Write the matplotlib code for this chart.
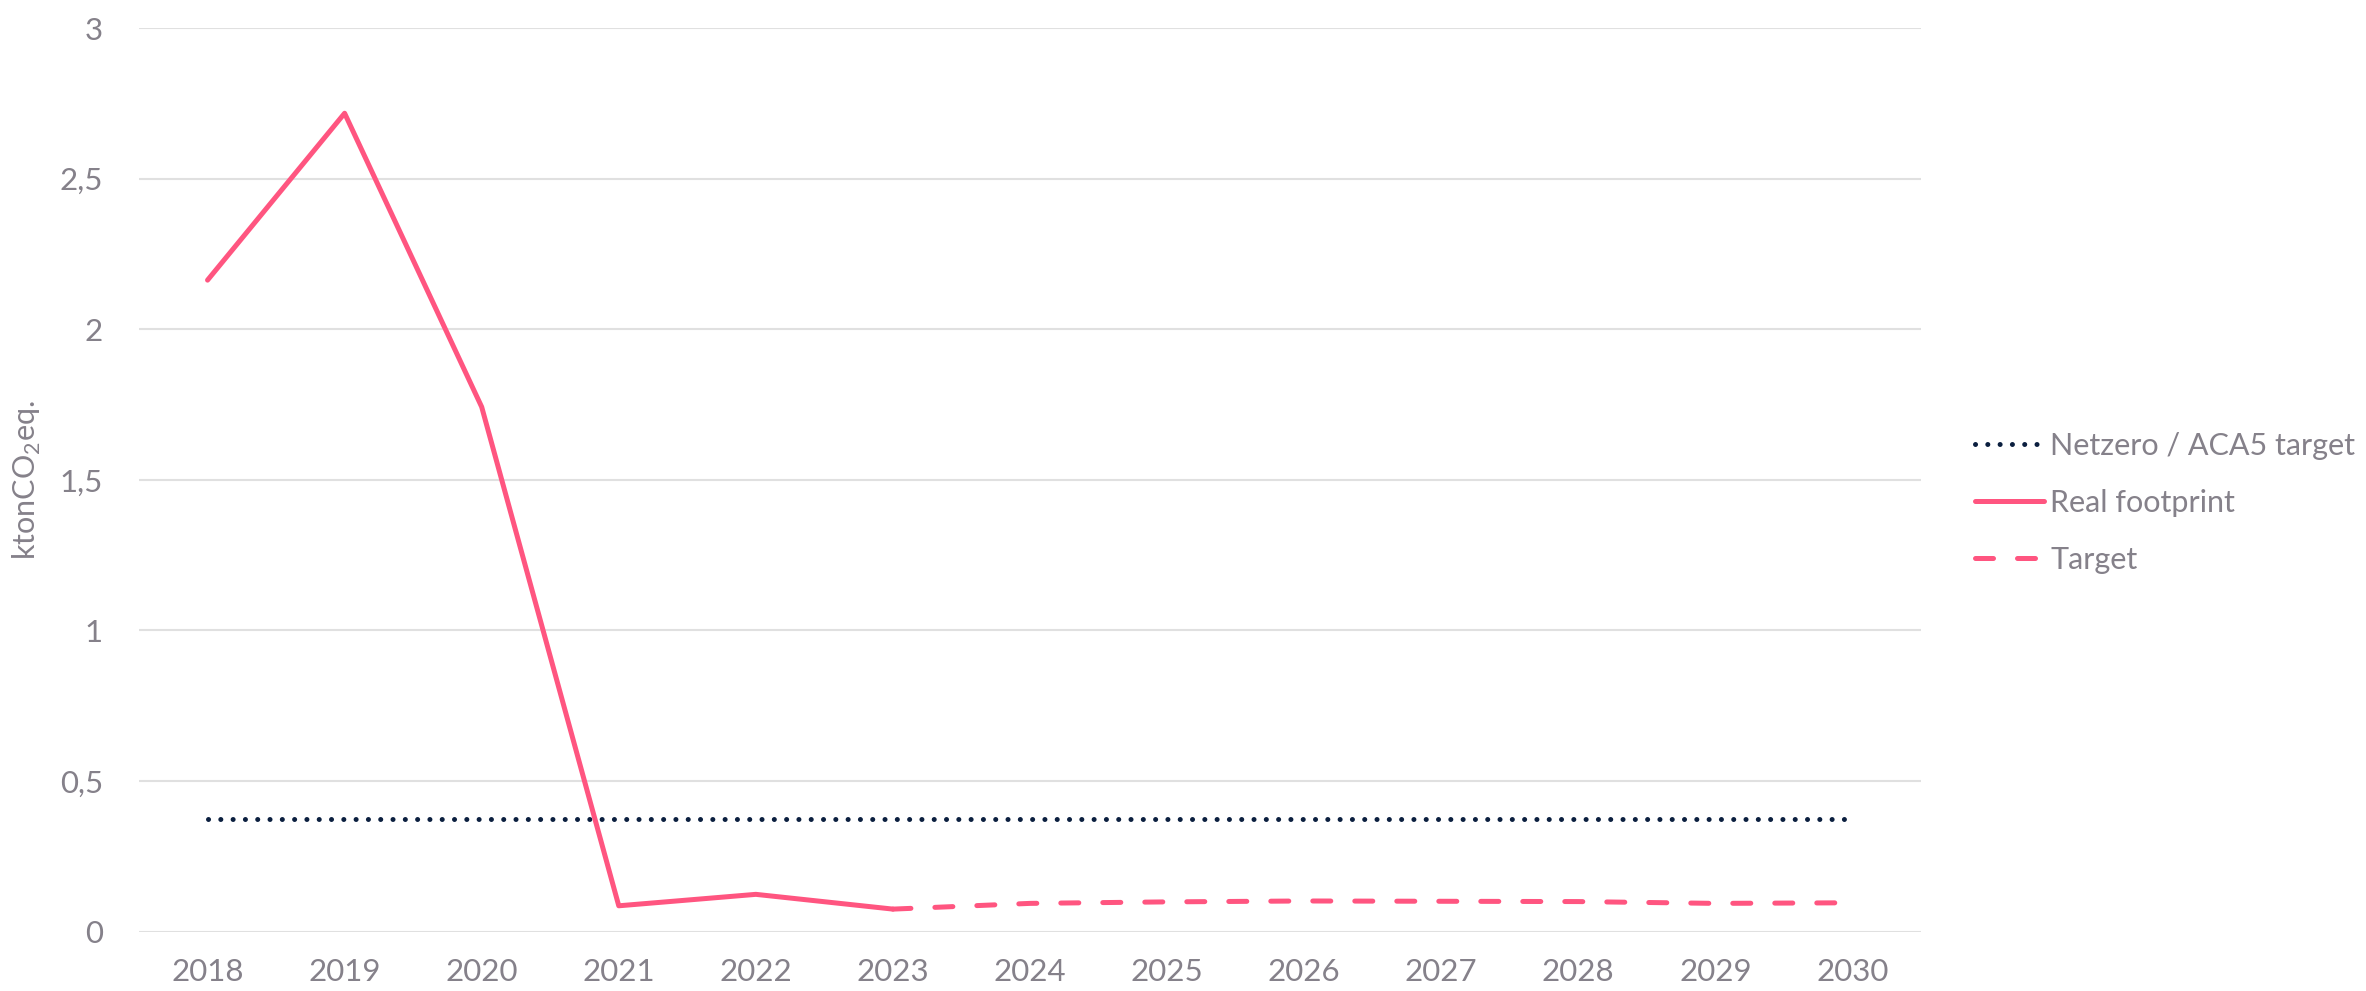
import matplotlib
matplotlib.use("Agg")
import matplotlib.pyplot as plt
from matplotlib.ticker import FuncFormatter

# data
years = [2018, 2019, 2020, 2021, 2022, 2023, 2024, 2025, 2026, 2027, 2028, 2029, 2030]
real_years = [2018, 2019, 2020, 2021, 2022, 2023]
real_footprint = [2.163, 2.717, 1.742, 0.086, 0.124, 0.075]
target_years = [2023, 2024, 2025, 2026, 2027, 2028, 2029, 2030]
target = [0.075, 0.094, 0.099, 0.102, 0.101, 0.100, 0.094, 0.096]
netzero = [0.374] * len(years)

pink = "#FF5580"
navy = "#0B1F3F"
grey = "#85818A"

plt.rcParams['font.family'] = ['Lato', 'DejaVu Sans']
plt.rcParams['mathtext.fontset'] = 'custom'
plt.rcParams['mathtext.rm'] = 'Lato'

fig = plt.figure(figsize=(23.66, 9.91), dpi=100)
ax = fig.add_axes([139 / 2366, 1 - 931.7 / 991, (1921 - 139) / 2366, (931.7 - 28) / 991])

l_nz, = ax.plot(years, netzero, color=navy, lw=3.6, dashes=(0.01, 2.45),
                dash_capstyle='round', label='Netzero / ACA5 target')
l_real, = ax.plot(real_years, real_footprint, color=pink, lw=3.6,
                  solid_capstyle='round', solid_joinstyle='round', label='Real footprint')
l_tg, = ax.plot(target_years, target, color=pink, lw=3.6, dashes=(3.6, 4.8),
                dash_capstyle='round', label='Target')

ax.set_xlim(2017.5, 2030.5)
ax.set_ylim(0, 3)
ax.set_xticks(years)
ax.set_yticks([0, 0.5, 1, 1.5, 2, 2.5, 3])
ax.yaxis.set_major_formatter(FuncFormatter(lambda v, p: f"{v:g}".replace('.', ',')))
ax.grid(axis='y', color='#E0E0E0', lw=1.5)
ax.set_axisbelow(True)
for s in ax.spines.values():
    s.set_visible(False)
ax.tick_params(length=0, labelsize=22.5, labelcolor=grey)
ax.tick_params(axis='x', pad=19)
ax.tick_params(axis='y', pad=26)

ax.set_ylabel(r'ktonCO$_\mathregular{2}$eq.', fontsize=22, color=grey, labelpad=12)

fig.legend(handles=[l_nz, l_real, l_tg], loc='center left',
           bbox_to_anchor=(1960 / 2366, 1 - 503 / 991), frameon=False,
           labelcolor=grey, handlelength=2.25, handletextpad=0.2,
           labelspacing=0.95, borderpad=0, prop={'size': 22})

fig.savefig("out.png", dpi=100)
